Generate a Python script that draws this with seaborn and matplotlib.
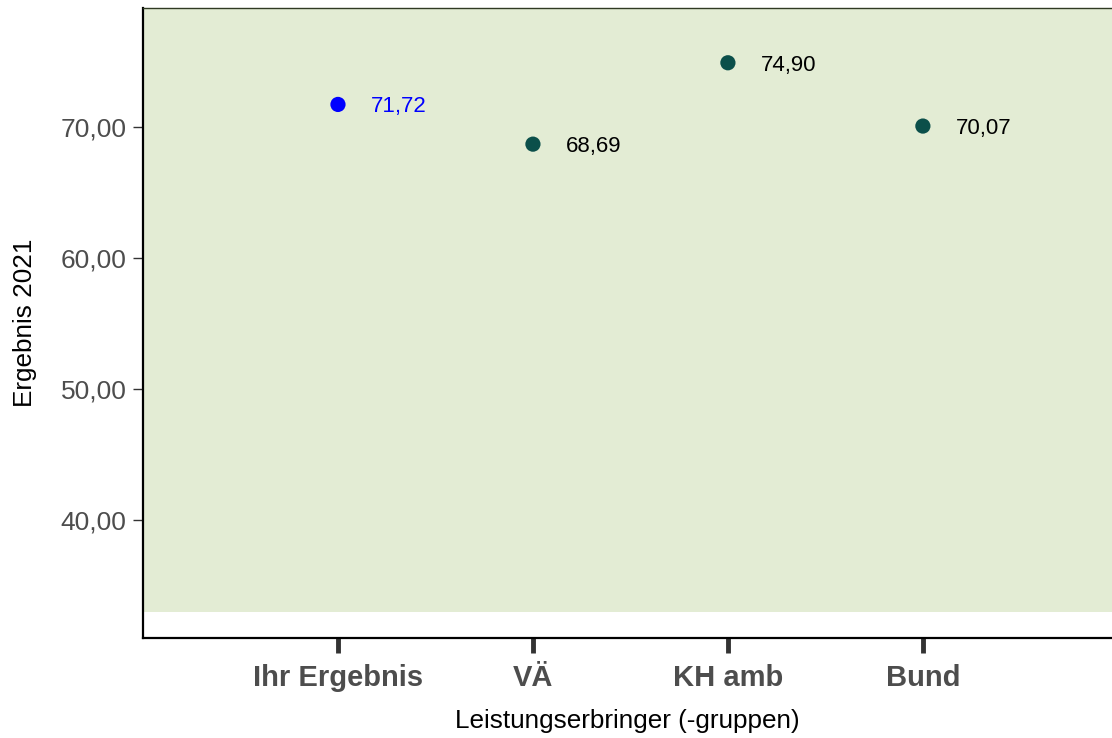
import matplotlib
matplotlib.use("Agg")
import matplotlib.pyplot as plt
import seaborn as sns
import pandas as pd

categories = ["Ihr Ergebnis", "VÄ", "KH amb", "Bund"]
values = [71.72, 68.69, 74.90, 70.07]
groups = ["own", "ref", "ref", "ref"]
value_labels = ["71,72", "68,69", "74,90", "70,07"]
y_ticks = [40, 50, 60, 70]
y_tick_labels = ["40,00", "50,00", "60,00", "70,00"]
band_low = 33

df = pd.DataFrame({"cat": categories, "val": values, "grp": groups})

sns.set_theme(style="white")
plt.rcParams["font.family"] = ["Liberation Sans", "DejaVu Sans"]

fig = plt.figure(figsize=(11.12, 7.38), dpi=100)
ax = fig.add_axes([143 / 1112, 1 - 638 / 738, 1 - 143 / 1112, (638 - 8) / 738])

ylim = (31.0, 79.08)
ax.axhspan(band_low, ylim[1], color="#e3ecd4", zorder=0, lw=0)

palette = {"own": "#0000ff", "ref": "#0b4f4a"}
sns.scatterplot(data=df, x="cat", y="val", hue="grp", palette=palette,
                s=120, linewidth=0, legend=False, ax=ax, zorder=3)

for i, (v, lab, g) in enumerate(zip(values, value_labels, groups)):
    ax.text(i + 0.31, v, lab, ha="center", va="center_baseline", fontsize=16,
            color="#0000ff" if g == "own" else "black")

ax.set_xlim(-1.0, 3.97)
ax.set_ylim(*ylim)
ax.set_yticks(y_ticks)
ax.set_yticklabels(y_tick_labels, fontsize=19, color="#4d4d4d")
ax.set_xticks(range(len(categories)))
ax.set_xticklabels(categories, fontsize=21, fontweight="bold", color="#4d4d4d")

ax.tick_params(axis="x", length=11, width=3.5, color="#333333", pad=8, bottom=True)
ax.tick_params(axis="y", length=7, width=1.0, color="#333333", pad=5, left=True)

ax.set_xlabel("Leistungserbringer (-gruppen)", fontsize=18.8, color="black", labelpad=12)
ax.set_ylabel("Ergebnis 2021", fontsize=18.8, color="black", labelpad=17)

for side in ["left", "bottom"]:
    ax.spines[side].set_visible(True)
    ax.spines[side].set_color("black")
    ax.spines[side].set_linewidth(1.6)
ax.spines["top"].set_visible(True)
ax.spines["top"].set_color("#2f3a23")
ax.spines["top"].set_linewidth(1.0)
ax.spines["right"].set_visible(False)

fig.savefig("out.png", dpi=100)
